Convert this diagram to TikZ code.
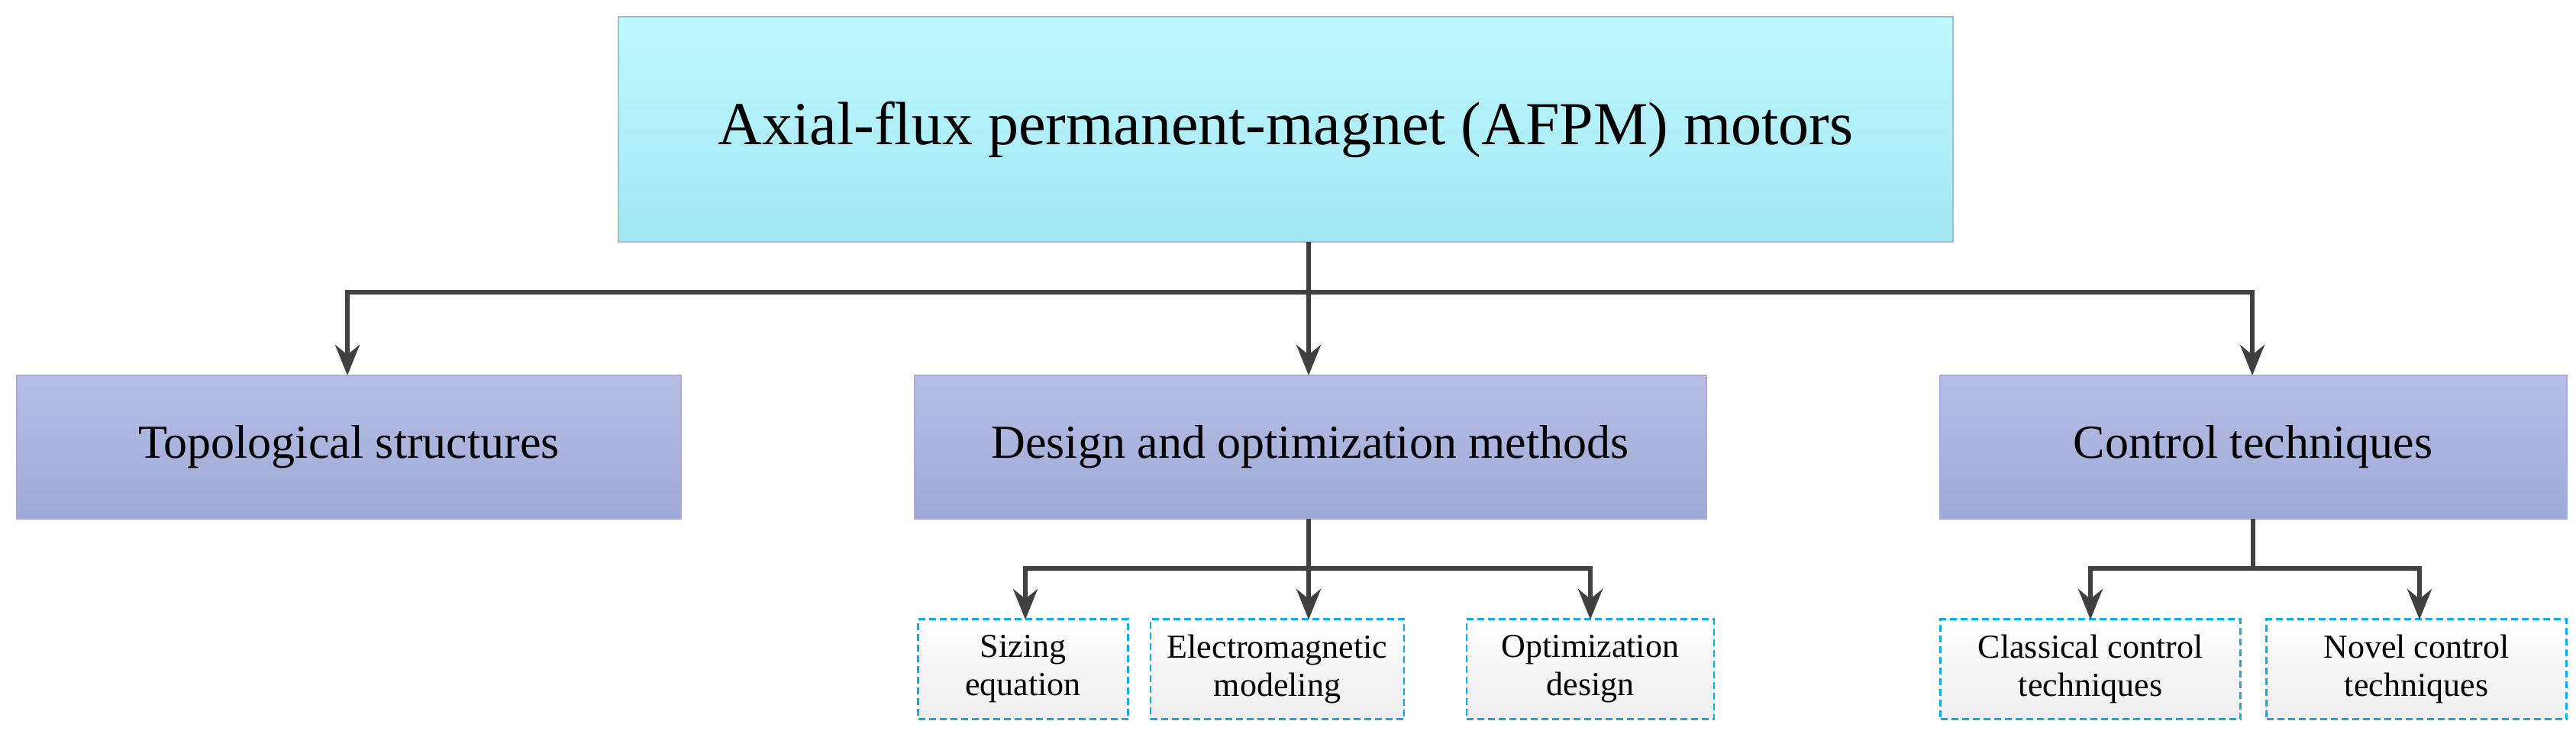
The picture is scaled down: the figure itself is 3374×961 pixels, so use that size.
\documentclass[tikz,border=0pt]{standalone}
\usepackage{fontspec}
\setmainfont{Liberation Serif}
\usetikzlibrary{arrows.meta}
\definecolor{arr}{HTML}{404040}
\begin{document}
\begin{tikzpicture}[x=1pt,y=-1pt,
 top/.style={draw=blue!20!cyan!40!gray!60, line width=1.5pt, top color=blue!10!cyan!25!white, bottom color=blue!15!cyan!35!white!90!gray, inner sep=0},
 mid/.style={draw=blue!50!gray!45, line width=1.5pt, top color={rgb,255:red,182;green,190;blue,228}, bottom color={rgb,255:red,158;green,170;blue,214}, inner sep=0},
 sm/.style={draw={rgb,255:red,0;green,176;blue,240}, dashed, dash pattern=on 9pt off 5pt, line width=2.5pt, top color=white, bottom color=black!7, inner sep=0, align=center, font=\fontsize{44}{50}\selectfont},
 con/.style={draw=arr, line width=6pt},
 arw/.style={con, -{Stealth[length=40pt,width=32pt]}}]
\useasboundingbox (0,0) rectangle (3374,961);
\path[top] (810,22) rectangle (2558,317);
\node[font=\fontsize{80}{90}\selectfont] (t) at (1684,170) {Axial-flux permanent-magnet (AFPM) motors};
\path[mid] (22,492) rectangle (892,680);
\path[mid] (1198,492) rectangle (2235,680);
\path[mid] (2541,492) rectangle (3362,680);
\node[font=\fontsize{62}{70}\selectfont] (a) at (457,586) {Topological structures};
\node[font=\fontsize{62}{70}\selectfont] (b) at (1716,586) {Design and optimization methods};
\node[font=\fontsize{62}{70}\selectfont] (c) at (2951,586) {Control techniques};
\node[sm, minimum width=275pt, minimum height=131pt] (s1) at (1340,877) {Sizing\\equation};
\node[sm, minimum width=332pt, minimum height=131pt] (s2) at (1673,877) {Electromagnetic\\modeling};
\node[sm, minimum width=324pt, minimum height=131pt] (s3) at (2083,877) {Optimization\\design};
\node[sm, minimum width=393pt, minimum height=131pt] (s4) at (2738,877) {Classical control\\techniques};
\node[sm, minimum width=393pt, minimum height=131pt] (s5) at (3165,877) {Novel control\\techniques};
\coordinate (tb) at (1714,317);
\coordinate (db) at (1714,680);
\coordinate (cb) at (2951,680);
\draw[con] (tb) -- (1714,383);
\draw[arw] (455,383) -- (455,492);
\draw[con] (452,383) -- (2953,383);
\draw[arw] (1714,383) -- (1714,492);
\draw[arw] (2950,383) -- (2950,492);
\draw[con] (db) -- (1714,745);
\draw[con] (1340,745) -- (2086,745);
\draw[arw] (1343,745) -- (1343,812);
\draw[arw] (1714,745) -- (1714,812);
\draw[arw] (2083,745) -- (2083,812);
\draw[con] (cb) -- (2951,745);
\draw[con] (2735,745) -- (3172,745);
\draw[arw] (2738,745) -- (2738,812);
\draw[arw] (3169,745) -- (3169,812);
\end{tikzpicture}
\end{document}
